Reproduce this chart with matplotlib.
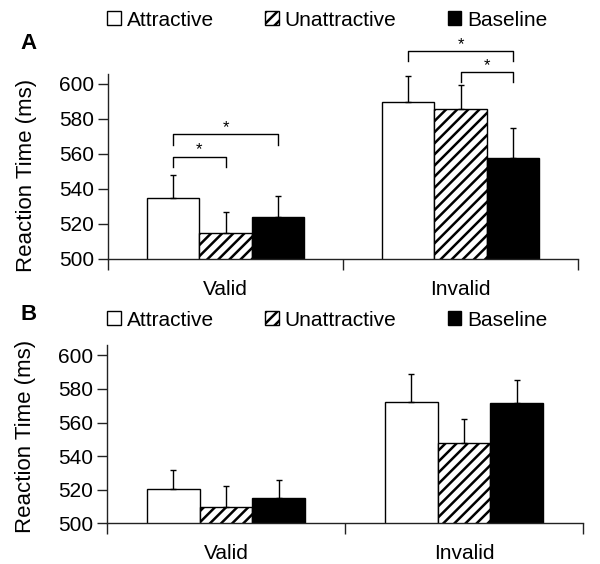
import numpy as np
import matplotlib
matplotlib.use('Agg')
import matplotlib.pyplot as plt
from matplotlib.patches import Patch

plt.rcParams['font.family'] = ['Liberation Sans', 'DejaVu Sans']
plt.rcParams['hatch.linewidth'] = 1.8

# data
conditions = ['Valid', 'Invalid']
series = ['Attractive', 'Unattractive', 'Baseline']

# panel A: means and upper error
a_attr = [535, 589.5]
a_unat = [515, 586]
a_base = [524, 558]
a_attr_err = [13, 15]
a_unat_err = [12, 13.5]
a_base_err = [12, 17]

# panel B
b_attr = [520.5, 572]
b_unat = [510, 548]
b_base = [515, 571.5]
b_attr_err = [11.5, 17]
b_unat_err = [12, 14]
b_base_err = [11, 14]

# significance brackets for panel A: (group, bar i, bar j, height, drop)
a_sig = [(0, 0, 1, 558.5, 6), (0, 0, 2, 571.5, 6.5),
         (1, 0, 2, 619, 6), (1, 1, 2, 607, 6)]

fs = 15
bw = 0.222
x_pos = np.arange(len(conditions)) + 0.5
offsets = [-bw, 0, bw]
styles = [dict(color='white', edgecolor='black', linewidth=1),
          dict(color='white', edgecolor='black', hatch='///', linewidth=1),
          dict(color='black', edgecolor='black', linewidth=1)]

fig = plt.figure(figsize=(6, 5.64), dpi=100)
axA = fig.add_axes([108/600, 1-259/564, 470/600, 185.5/564])
axB = fig.add_axes([107/600, 1-523.3/564, 476/600, 178/564])


def draw_panel(ax, vals, errs, label_y):
    for k in range(3):
        ax.bar(x_pos + offsets[k], vals[k], width=bw, yerr=[np.zeros(2), errs[k]],
               error_kw=dict(ecolor='black', elinewidth=1, capsize=2.5, capthick=1),
               **styles[k])
    ax.set_xlim(0, 2)
    ax.set_ylim(500, 606)
    ax.set_yticks(np.arange(500, 601, 20))
    ax.tick_params(axis='y', labelsize=fs, length=7, width=1, pad=3, colors='#222222',
                   labelcolor='black')
    ax.set_xticks([0, 1, 2])
    ax.set_xticklabels([])
    ax.tick_params(axis='x', which='major', length=8, width=1, colors='#222222')
    ax.set_xticks(x_pos, minor=True)
    ax.set_xticklabels(conditions, minor=True, fontsize=fs)
    ax.tick_params(axis='x', which='minor', length=0, pad=15)
    for s in ['top', 'right']:
        ax.spines[s].set_visible(False)
    for s in ['left', 'bottom']:
        ax.spines[s].set_color('#222222')
        ax.spines[s].set_linewidth(1)
    ax.set_ylabel('Reaction Time (ms)', fontsize=16)
    ax.yaxis.set_label_coords(-0.15, label_y)


draw_panel(axA, [a_attr, a_unat, a_base], [a_attr_err, a_unat_err, a_base_err], 0.45)
draw_panel(axB, [b_attr, b_unat, b_base], [b_attr_err, b_unat_err, b_base_err], 0.49)

# significance brackets
for g, i, j, h, d in a_sig:
    x1 = x_pos[g] + offsets[i]
    x2 = x_pos[g] + offsets[j]
    axA.plot([x1, x1, x2, x2], [h - d, h, h, h - d], color='black', lw=1, clip_on=False)
    axA.text((x1 + x2) / 2, h + 1.2, '*', ha='center', va='baseline', fontsize=12,
             clip_on=False)

# legends
handles = [Patch(facecolor='white', edgecolor='black', linewidth=1),
           Patch(facecolor='white', edgecolor='black', hatch='///', linewidth=1),
           Patch(facecolor='black', edgecolor='black', linewidth=1)]
for yc in [20, 320]:
    fig.legend(handles, series, loc='center left', bbox_to_anchor=(107/600, 1-yc/564),
               ncol=3, frameon=False, fontsize=fs, borderaxespad=0, borderpad=0,
               handlelength=0.65, handleheight=0.65, handletextpad=0.3,
               columnspacing=2.45)

fig.text(28.5/600, 1-43.5/564, 'A', fontsize=16, fontweight='bold', ha='center', va='center')
fig.text(28.5/600, 1-315/564, 'B', fontsize=16, fontweight='bold', ha='center', va='center')

plt.savefig('out.png', dpi=100)
